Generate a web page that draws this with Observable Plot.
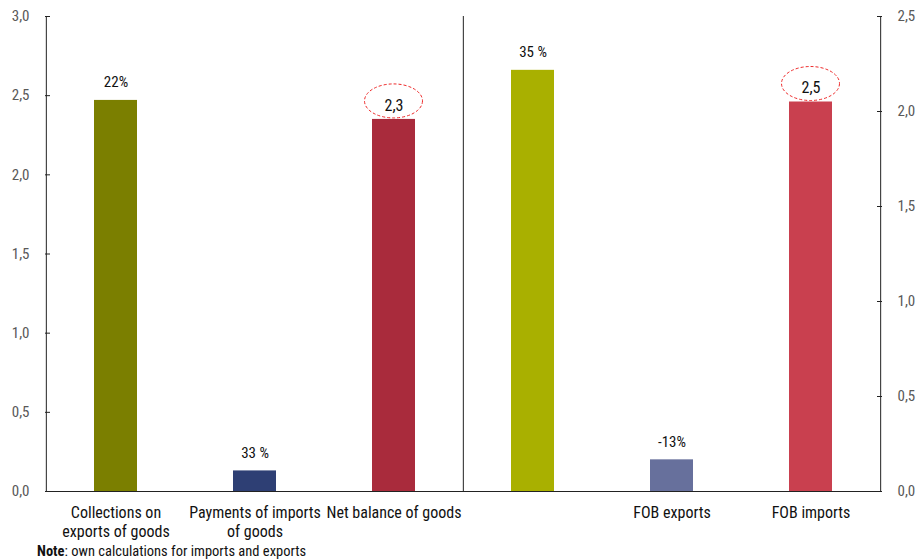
<!DOCTYPE html>
<html>
<head>
<meta charset="utf-8">
<script src="https://cdn.jsdelivr.net/npm/d3@7"></script>
<script src="https://cdn.jsdelivr.net/npm/@observablehq/plot@0.6"></script>
<style>
  html, body { margin: 0; padding: 0; background: #fff; }
  body { width: 918px; height: 560px; overflow: hidden;
    font-family: "Roboto Condensed", "Liberation Sans Narrow", "DejaVu Sans Condensed", Roboto, sans-serif; font-stretch: condensed; }
  #note { font-size: 14.5px; line-height: 17px; padding-left: 37px; color: #111; margin: 0; }
</style>
</head>
<body>
<div id="chart"></div>
<div id="note"><b>Note</b>: own calculations for imports and exports</div>
<script>
// ---- data ----
const categories = ["Collections on exports of goods", "Payments of imports of goods", "Net balance of goods", "Total (unlabelled)", "FOB exports", "FOB imports"];
const tickLabels = ["Collections on\nexports of goods", "Payments of imports\nof goods", "Net balance of goods", "", "FOB exports", "FOB imports"];
const values = [2.47, 0.13, 2.35, 2.66, 0.20, 2.46];
const valueLabels = ["22%", "33 %", "2,3", "35 %", "-13%", "2,5"];
const highlighted = [false, false, true, false, false, true];
const colors = ["#7b7f00", "#2e3f74", "#a92b3c", "#a9b000", "#67709c", "#c9404f"];
const leftTicks = [0, 0.5, 1.0, 1.5, 2.0, 2.5, 3.0];
const rightTicks = [0, 0.5, 1.0, 1.5, 2.0, 2.5];
const leftMax = 3.0, rightMax = 2.5;

// ---- build ----
const data = categories.map((c, i) => ({cat: c, value: values[i], label: valueLabels[i], hl: highlighted[i], color: colors[i]}));
const ratio = leftMax / rightMax;
const rightTickData = rightTicks.map(v => ({pos: v * ratio, lab: v}));
const fmt = v => v.toFixed(1).replace(".", ",");

const W = 918, H = 543, mL = 45, mR = 37, mT = 16, mB = 52;
const step = (W - mL - mR) / categories.length;

const ellipses = (index, scales) => {
  const g = d3.create("svg:g");
  const bw = scales.x.bandwidth();
  data.filter(d => d.hl).forEach((d, k) => {
    g.append("ellipse")
      .attr("cx", scales.x(d.cat) + bw / 2)
      .attr("cy", scales.y(d.value) - 18)
      .attr("rx", 29).attr("ry", 17)
      .attr("fill", "none")
      .attr("stroke", "#ee2a2a")
      .attr("stroke-width", 1)
      .attr("stroke-dasharray", "3,2");
  });
  return g.node();
};

const chart = Plot.plot({
  width: W, height: H,
  marginLeft: mL, marginRight: mR, marginTop: mT, marginBottom: mB,
  style: {fontSize: "15px", fontFamily: "\"Roboto Condensed\", \"Liberation Sans Narrow\", \"DejaVu Sans Condensed\", Roboto, sans-serif", color: "#111", background: "#fff"},
  x: {domain: categories, paddingInner: 0.69, paddingOuter: 0.345, label: null},
  y: {domain: [0, leftMax], label: null},
  marks: [
    Plot.barY(data, {x: "cat", y: "value", fill: "color"}),
    Plot.ruleY([0], {stroke: "#222"}),
    Plot.ruleX([categories[0], categories[3]], {dx: -step / 2, stroke: "#222"}),
    Plot.ruleX([categories[categories.length - 1]], {dx: step / 2, stroke: "#222"}),
    Plot.axisY(leftTicks, {anchor: "left", tickSize: -5, tickPadding: 21, tickFormat: fmt, fill: "#595959", stroke: "#222", fontSize: 15, label: null}),
    Plot.axisY(rightTickData.map(d => d.pos), {anchor: "right", tickSize: -5, tickPadding: 21, tickFormat: p => fmt(p / ratio), fill: "#595959", stroke: "#222", fontSize: 15, label: null}),
    Plot.axisX({anchor: "bottom", tickSize: 0, tickPadding: 13, lineHeight: 1.2, fontSize: 16, tickFormat: c => tickLabels[categories.indexOf(c)], fill: "#111", label: null}),
    Plot.text(data.filter(d => !d.hl), {x: "cat", y: "value", text: "label", dy: -18, lineAnchor: "middle", fill: "#111", fontSize: 15}),
    Plot.text(data.filter(d => d.hl), {x: "cat", y: "value", text: "label", dy: -14, lineAnchor: "middle", fill: "#111", fontSize: 16}),
    ellipses
  ]
});
document.getElementById("chart").appendChild(chart);
</script>
</body>
</html>
